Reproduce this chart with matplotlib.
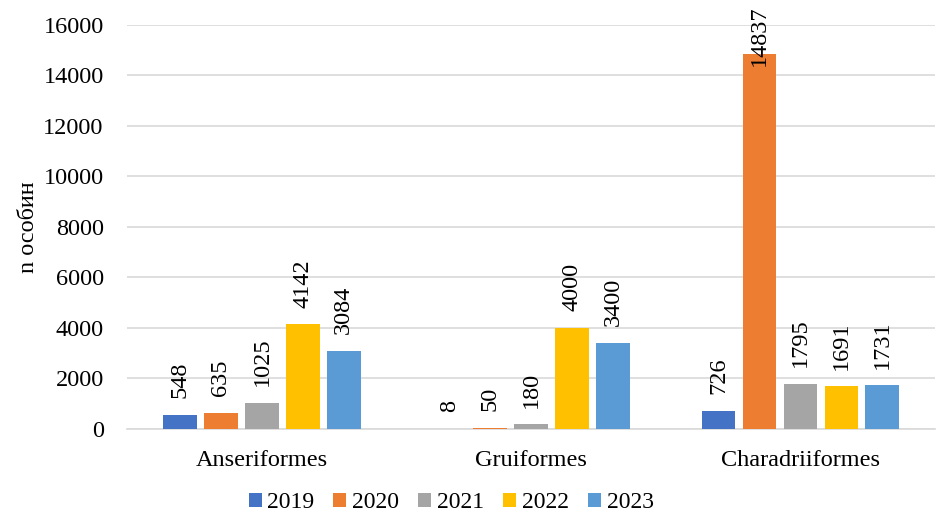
# Bird counts by order and year
import numpy as np
import matplotlib.pyplot as plt

plt.rcParams['font.family'] = ['Liberation Serif', 'DejaVu Serif']

orders = ['Anseriformes', 'Gruiformes', 'Charadriiformes']
years = ['2019', '2020', '2021', '2022', '2023']
v2019 = [548, 8, 726]
v2020 = [635, 50, 14837]
v2021 = [1025, 180, 1795]
v2022 = [4142, 4000, 1691]
v2023 = [3084, 3400, 1731]
colors = ['#4472C4', '#ED7D31', '#A5A5A5', '#FFC000', '#5B9BD5']

series = [v2019, v2020, v2021, v2022, v2023]
fs = 17.5

fig = plt.figure(figsize=(9.36, 5.18), dpi=100)
ax = fig.add_axes([0.136, 0.172, 0.863, 0.780])

x = np.arange(len(orders))
step = 0.152
width = 0.125
for i, (vals, year, c) in enumerate(zip(series, years, colors)):
    pos = x + (i - 2) * step
    bars = ax.bar(pos, vals, width, color=c, label=year, zorder=3)
    for b, v in zip(bars, vals):
        cx = b.get_x() + b.get_width() / 2
        if v > 12000:
            # label would run off the top, so it is pulled down onto the bar
            ax.annotate(str(v), (cx, 16000), xytext=(0, 14), textcoords='offset points',
                        rotation=90, ha='center', va='top', fontsize=fs, zorder=4)
        else:
            ax.annotate(str(v), (cx, v), xytext=(0, 12), textcoords='offset points',
                        rotation=90, ha='center', va='bottom', fontsize=fs, zorder=4)

ax.set_xlim(-0.5, 2.5)
ax.set_ylim(0, 16000)
ax.set_yticks(range(0, 16001, 2000))
ax.set_xticks(x)
ax.set_xticklabels(orders)
ax.tick_params(length=0, labelsize=fs)
ax.tick_params(axis='y', pad=17)
ax.tick_params(axis='x', pad=15)
ax.grid(axis='y', color='#D9D9D9', linewidth=1.2, zorder=0)
for s in ['top', 'right', 'left']:
    ax.spines[s].set_visible(False)
ax.spines['bottom'].set_color('#D9D9D9')
ax.spines['bottom'].set_linewidth(1.2)
ax.set_ylabel('n особин', fontsize=fs, labelpad=3)

fig.legend(loc='lower center', ncol=5, bbox_to_anchor=(0.482, -0.032), frameon=False,
           fontsize=17, handlelength=0.55, handleheight=0.55, handletextpad=0.25,
           columnspacing=0.8)

fig.savefig('out.png', dpi=100)
